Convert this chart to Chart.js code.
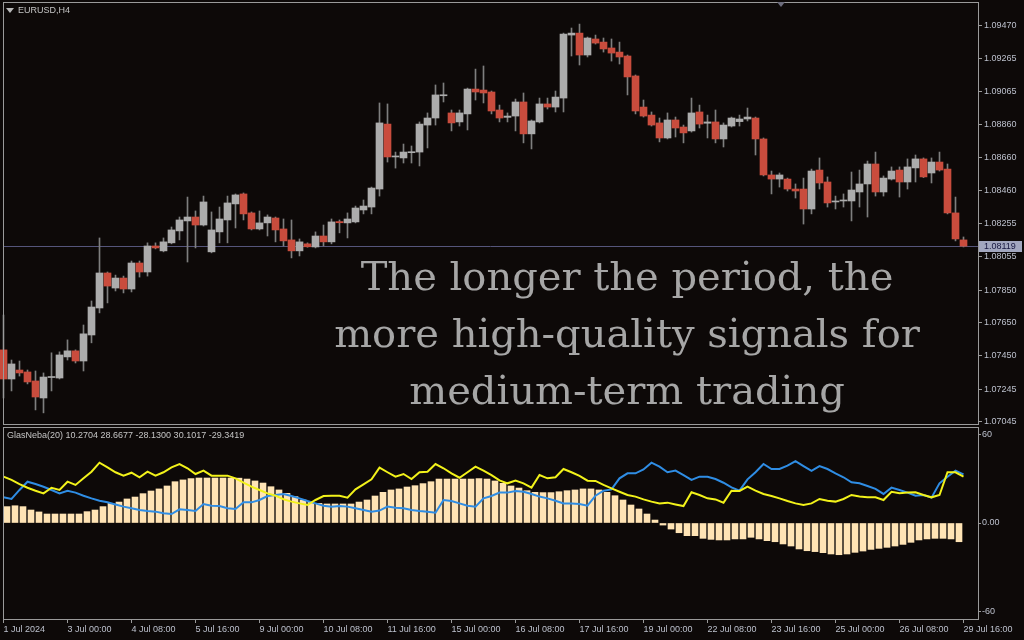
<!DOCTYPE html>
<html>
<head>
<meta charset="utf-8">
<script src="https://cdn.jsdelivr.net/npm/chart.js@4.4.1/dist/chart.umd.min.js"></script>
<style>
  html, body { margin: 0; padding: 0; background: #0d0908; }
  #wrap { position: relative; width: 1024px; height: 640px; overflow: hidden; background: #0d0908; }
  canvas { position: absolute; left: 0; }
  #priceCanvas { top: 0; }
  #indCanvas { top: 426px; }
  .lbl { position: absolute; font: 9px "Liberation Sans", Arial, sans-serif; color: #c4c4c4; white-space: nowrap; }
  #symbol { left: 18px; top: 5px; }
  #indName { left: 7px; top: 430px; }
  .tri { position: absolute; width: 0; height: 0; border-left: 4px solid transparent; border-right: 4px solid transparent; }
  #tri { left: 6px; top: 8px; border-top: 5px solid #b8b8b8; }
  #shift { left: 777px; top: 2px; border-top: 5px solid #6c6c7c; }
  #overlay { position: absolute; left: 327px; width: 600px; top: 248px; text-align: center;
             font: 40px/57px "DejaVu Serif", serif; color: #a6a6a6; }
</style>
</head>
<body>
<div id="wrap">
  <canvas id="priceCanvas" width="1024" height="432"></canvas>
  <canvas id="indCanvas" width="1024" height="214"></canvas>
  <div class="tri" id="tri"></div>
  <div class="tri" id="shift"></div>
  <div class="lbl" id="symbol">EURUSD,H4</div>
  <div class="lbl" id="indName">GlasNeba(20) 10.2704 28.6677 -28.1300 30.1017 -29.3419</div>
  <div id="overlay">The longer the period, the<br>more high-quality signals for<br>medium-term trading</div>
</div>
<script>
// EURUSD H4 candles, 1 Jul - 29 Jul 2024
const opens = [
  1.07485, 1.07307, 1.07362, 1.07350, 1.07295, 1.07191, 1.07316, 1.07313, 1.07442, 1.07479,
  1.07417, 1.07576, 1.07741, 1.07955, 1.07863, 1.07924, 1.07857, 1.08016, 1.07961, 1.08120,
  1.08090, 1.08139, 1.08212, 1.08273, 1.08297, 1.08248, 1.08084, 1.08206, 1.08279, 1.08377,
  1.08438, 1.08322, 1.08224, 1.08261, 1.08291, 1.08224, 1.08157, 1.08090, 1.08133, 1.08114,
  1.08181, 1.08145, 1.08269, 1.08261, 1.08267, 1.08340, 1.08358, 1.08468, 1.08865, 1.08664,
  1.08658, 1.08690, 1.08694, 1.08859, 1.08902, 1.09038, 1.08933, 1.08878, 1.08927, 1.09079,
  1.09073, 1.09061, 1.08951, 1.08906, 1.08914, 1.09000, 1.08805, 1.08878, 1.08988, 1.08969,
  1.09024, 1.09409, 1.09421, 1.09287, 1.09385, 1.09366, 1.09330, 1.09305, 1.09281, 1.09159,
  1.08969, 1.08920, 1.08872, 1.08780, 1.08890, 1.08847, 1.08823, 1.08939, 1.08870, 1.08878,
  1.08774, 1.08853, 1.08880, 1.08896, 1.08902, 1.08774, 1.08554, 1.08529, 1.08529, 1.08468,
  1.08468, 1.08346, 1.08584, 1.08511, 1.08389, 1.08395, 1.08395, 1.08450, 1.08499, 1.08621,
  1.08450, 1.08529, 1.08584, 1.08511, 1.08597, 1.08652, 1.08566, 1.08633, 1.08590, 1.08322,
  1.08157
];
const highs = [
  1.07698, 1.07423, 1.07417, 1.07362, 1.07356, 1.07344, 1.07467, 1.07473, 1.07546, 1.07485,
  1.07637, 1.07784, 1.08169, 1.07961, 1.07942, 1.07936, 1.08028, 1.08028, 1.08139, 1.08139,
  1.08169, 1.08236, 1.08297, 1.08419, 1.08334, 1.08425, 1.08328, 1.08358, 1.08425, 1.08438,
  1.08444, 1.08328, 1.08334, 1.08310, 1.08297, 1.08285, 1.08279, 1.08163, 1.08139, 1.08206,
  1.08248, 1.08285, 1.08279, 1.08322, 1.08364, 1.08401, 1.08480, 1.08994, 1.08988, 1.08694,
  1.08743, 1.08731, 1.08878, 1.08933, 1.09104, 1.09116, 1.08951, 1.08951, 1.09085, 1.09201,
  1.09220, 1.09067, 1.08981, 1.08933, 1.09018, 1.09055, 1.08890, 1.09024, 1.09024, 1.09067,
  1.09421, 1.09452, 1.09476, 1.09397, 1.09409, 1.09391, 1.09385, 1.09366, 1.09287, 1.09165,
  1.09012, 1.08939, 1.08902, 1.08933, 1.08908, 1.08859, 1.09024, 1.08981, 1.08920, 1.08951,
  1.08872, 1.08908, 1.08920, 1.08963, 1.08908, 1.08780, 1.08578, 1.08566, 1.08535, 1.08499,
  1.08535, 1.08590, 1.08658, 1.08542, 1.08425, 1.08438, 1.08572, 1.08584, 1.08639, 1.08694,
  1.08548, 1.08603, 1.08603, 1.08652, 1.08676, 1.08658, 1.08658, 1.08694, 1.08621, 1.08419,
  1.08175
];
const lows = [
  1.07191, 1.07234, 1.07325, 1.07277, 1.07118, 1.07100, 1.07234, 1.07307, 1.07423, 1.07405,
  1.07356, 1.07528, 1.07711, 1.07772, 1.07845, 1.07833, 1.07839, 1.07930, 1.07936, 1.08102,
  1.08084, 1.08133, 1.08157, 1.08022, 1.08108, 1.08242, 1.08078, 1.08139, 1.08139, 1.08230,
  1.08279, 1.08218, 1.08218, 1.08181, 1.08145, 1.08120, 1.08047, 1.08059, 1.08112, 1.08108,
  1.08120, 1.08133, 1.08200, 1.08169, 1.08261, 1.08316, 1.08316, 1.08425, 1.08633, 1.08596,
  1.08627, 1.08627, 1.08609, 1.08719, 1.08859, 1.09000, 1.08823, 1.08853, 1.08829, 1.09012,
  1.08994, 1.08927, 1.08878, 1.08878, 1.08823, 1.08750, 1.08713, 1.08872, 1.08957, 1.08939,
  1.08939, 1.09281, 1.09226, 1.09275, 1.09354, 1.09305, 1.09250, 1.09232, 1.09043, 1.08927,
  1.08908, 1.08853, 1.08756, 1.08774, 1.08786, 1.08750, 1.08816, 1.08841, 1.08780, 1.08750,
  1.08725, 1.08847, 1.08853, 1.08884, 1.08676, 1.08548, 1.08438, 1.08480, 1.08456, 1.08413,
  1.08254, 1.08316, 1.08468, 1.08358, 1.08346, 1.08358, 1.08273, 1.08358, 1.08297, 1.08425,
  1.08425, 1.08523, 1.08419, 1.08468, 1.08511, 1.08538, 1.08505, 1.08578, 1.08316, 1.08151,
  1.08114
];
const closes = [
  1.07307, 1.07399, 1.07344, 1.07289, 1.07197, 1.07319, 1.07322, 1.07454, 1.07479, 1.07417,
  1.07583, 1.07747, 1.07955, 1.07875, 1.07924, 1.07857, 1.08016, 1.07961, 1.08120, 1.08108,
  1.08145, 1.08218, 1.08279, 1.08297, 1.08248, 1.08389, 1.08218, 1.08285, 1.08383, 1.08432,
  1.08316, 1.08224, 1.08261, 1.08297, 1.08218, 1.08151, 1.08090, 1.08145, 1.08115, 1.08181,
  1.08145, 1.08267, 1.08262, 1.08285, 1.08352, 1.08364, 1.08474, 1.08872, 1.08664, 1.08670,
  1.08694, 1.08696, 1.08865, 1.08902, 1.09043, 1.09044, 1.08872, 1.08933, 1.09079, 1.09061,
  1.09055, 1.08945, 1.08902, 1.08914, 1.09000, 1.08805, 1.08884, 1.08988, 1.08969, 1.09030,
  1.09415, 1.09421, 1.09287, 1.09391, 1.09360, 1.09324, 1.09299, 1.09275, 1.09153, 1.08945,
  1.08914, 1.08859, 1.08780, 1.08890, 1.08841, 1.08811, 1.08933, 1.08865, 1.08878, 1.08774,
  1.08859, 1.08902, 1.08896, 1.08908, 1.08774, 1.08554, 1.08529, 1.08554, 1.08468, 1.08456,
  1.08346, 1.08578, 1.08505, 1.08383, 1.08395, 1.08401, 1.08462, 1.08499, 1.08621, 1.08450,
  1.08535, 1.08578, 1.08511, 1.08603, 1.08652, 1.08542, 1.08633, 1.08584, 1.08322, 1.08163,
  1.08119
];

// GlasNeba(20) indicator buffers
const histValues = [
  11.1, 11.7, 11.1, 8.8, 7.5, 6.1, 6.1, 6.1, 6.1, 6.1,
  7.7, 8.8, 11.1, 13.3, 14.2, 16.3, 17.6, 19.9, 21.7, 23.1,
  25.1, 28.0, 29.2, 30.1, 30.5, 30.5, 30.5, 30.5, 30.5, 30.4,
  29.8, 28.5, 27.1, 24.6, 22.4, 20.1, 17.9, 15.6, 14.0, 13.3,
  12.9, 12.9, 12.9, 12.9, 14.2, 15.6, 18.3, 20.8, 22.4, 23.1,
  24.4, 25.3, 26.7, 28.0, 29.8, 29.8, 29.8, 29.8, 29.8, 30.1,
  29.8, 28.5, 26.9, 25.1, 23.7, 21.9, 20.8, 20.6, 20.6, 21.2,
  21.9, 22.4, 23.1, 23.1, 22.4, 20.8, 18.5, 15.6, 12.2, 9.5,
  6.1, 2.0, -1.4, -4.1, -6.6, -8.6, -8.6, -10.4, -11.1, -11.5,
  -11.5, -10.8, -10.8, -9.7, -10.8, -12.0, -12.7, -14.2, -15.6, -17.6,
  -18.8, -19.4, -20.1, -21.0, -21.5, -21.0, -19.9, -19.0, -17.9, -17.2,
  -16.5, -15.6, -14.5, -13.1, -11.5, -10.8, -10.4, -10.4, -10.8, -12.7
];
const yellowLine = [
  31.4, 29.2, 26.4, 23.9, 21.9, 20.1, 23.9, 22.4, 28.0, 25.8,
  30.3, 34.8, 40.9, 37.7, 34.4, 32.1, 34.1, 31.0, 34.8, 32.1,
  34.4, 37.7, 40.0, 37.1, 33.2, 35.5, 32.1, 32.1, 32.1, 30.3,
  27.3, 24.6, 22.4, 20.1, 18.5, 16.1, 14.5, 13.3, 12.2, 15.6,
  18.3, 18.5, 18.5, 17.2, 22.8, 26.2, 29.6, 37.5, 34.4, 31.4,
  33.2, 29.8, 34.4, 34.8, 40.0, 37.1, 33.7, 30.7, 34.4, 38.2,
  35.5, 32.5, 28.9, 26.9, 28.7, 26.9, 24.0, 32.5, 30.3, 31.0,
  36.6, 34.4, 31.9, 28.7, 28.5, 25.8, 23.5, 21.2, 19.0, 17.9,
  16.0, 14.5, 13.3, 13.8, 12.6, 11.5, 20.8, 19.0, 16.7, 16.0,
  13.8, 21.9, 21.7, 24.6, 21.9, 19.7, 18.3, 16.7, 14.9, 13.3,
  12.2, 13.3, 16.3, 15.1, 14.5, 16.3, 19.0, 17.9, 17.4, 17.4,
  15.6, 21.2, 20.1, 20.6, 20.8, 19.0, 17.4, 19.0, 34.4, 34.4,
  31.4
];
const blueLine = [
  17.4, 16.3, 22.4, 28.0, 26.4, 24.6, 22.4, 20.1, 21.9, 20.6,
  18.5, 16.7, 15.1, 14.0, 12.6, 11.1, 10.0, 8.8, 8.1, 7.7,
  6.6, 6.1, 9.3, 8.8, 8.1, 12.9, 11.7, 11.5, 10.0, 9.5,
  14.0, 14.0, 15.6, 18.3, 19.0, 19.7, 18.3, 16.7, 14.9, 13.3,
  11.7, 11.1, 11.5, 11.1, 10.0, 8.8, 7.7, 8.4, 11.1, 10.4,
  10.0, 8.8, 8.1, 7.7, 7.0, 15.6, 14.9, 13.3, 11.7, 11.1,
  16.7, 18.3, 20.6, 20.6, 21.7, 21.2, 19.7, 17.9, 16.7, 15.1,
  13.3, 13.3, 12.9, 11.7, 18.5, 21.9, 22.8, 30.3, 33.7, 33.7,
  36.3, 40.9, 38.2, 34.4, 35.5, 32.5, 29.2, 31.4, 31.4, 29.8,
  27.3, 24.2, 21.9, 29.6, 34.4, 40.0, 36.6, 36.6, 38.9, 42.0,
  38.6, 35.3, 38.6, 36.6, 33.7, 31.0, 27.6, 26.9, 25.1, 23.1,
  19.7, 24.0, 22.4, 20.6, 18.5, 19.0, 17.2, 26.9, 31.4, 35.5,
  32.9
];

const xTickIdx = [0, 8, 16, 24, 32, 40, 48, 56, 64, 72, 80, 88, 96, 104, 112, 120];
const xTickLabels = ['1 Jul 2024', '3 Jul 00:00', '4 Jul 08:00', '5 Jul 16:00', '9 Jul 00:00',
  '10 Jul 08:00', '11 Jul 16:00', '15 Jul 00:00', '16 Jul 08:00', '17 Jul 16:00', '19 Jul 00:00',
  '22 Jul 08:00', '23 Jul 16:00', '25 Jul 00:00', '26 Jul 08:00', '29 Jul 16:00'];
const priceTicks = [1.09470, 1.09265, 1.09065, 1.08860, 1.08660, 1.08460, 1.08255,
  1.08055, 1.07850, 1.07650, 1.07450, 1.07245, 1.07045];
const indTicks = [60, 0, -60];
const lastPrice = 1.08119;

// axis ranges
const xMin = -0.0625, xMax = 121.8125;
const priceMin = 1.07032, priceMax = 1.09611;
const indMin = -65.08, indMax = 65.08;

const UP = '#acacac', DOWN = '#c94c3d', WICK = '#7e7e7e';
const FRAME = '#9a9a9a', AXIS_TXT = '#bcc0cc';

Chart.defaults.font.family = '"Liberation Sans", Arial, sans-serif';
Chart.defaults.font.size = 9;

const framePlugin = {
  id: 'frame',
  afterDraw(chart) {
    const { ctx, chartArea: a } = chart;
    ctx.save();
    ctx.strokeStyle = FRAME;
    ctx.lineWidth = 1;
    ctx.strokeRect(a.left + 0.5, a.top + 0.5, a.right - a.left, a.bottom - a.top);
    ctx.restore();
  }
};

// horizontal bid line and its label on the price scale
const bidPlugin = {
  id: 'bid',
  beforeDatasetsDraw(chart) {
    const { ctx, chartArea: a } = chart;
    const y = Math.round(chart.scales.y.getPixelForValue(lastPrice)) + 0.5;
    ctx.save();
    ctx.strokeStyle = '#55557a';
    ctx.beginPath();
    ctx.moveTo(a.left, y);
    ctx.lineTo(a.right, y);
    ctx.stroke();
    ctx.restore();
  },
  afterDraw(chart) {
    const { ctx, chartArea: a } = chart;
    const y = Math.round(chart.scales.y.getPixelForValue(lastPrice));
    ctx.save();
    ctx.fillStyle = '#a2a7bf';
    ctx.fillRect(a.right + 1, y - 5, 43, 11);
    ctx.fillStyle = '#161640';
    ctx.font = '9px "Liberation Sans", Arial, sans-serif';
    ctx.textBaseline = 'middle';
    ctx.fillText(lastPrice.toFixed(5), a.right + 6, y + 0.5);
    ctx.restore();
  }
};

const idx = closes.map((_, i) => i);

new Chart(document.getElementById('priceCanvas'), {
  type: 'bar',
  data: {
    datasets: [
      {
        label: 'body',
        data: idx.map(i => ({ x: i, y: [opens[i], closes[i]] })),
        backgroundColor: idx.map(i => closes[i] >= opens[i] ? UP : DOWN),
        barThickness: 7, grouped: false, minBarLength: 1, order: 0, clip: false
      },
      {
        label: 'wick',
        data: idx.map(i => ({ x: i, y: [lows[i], highs[i]] })),
        backgroundColor: WICK,
        barThickness: 1, grouped: false, order: 1, clip: false
      }
    ]
  },
  options: {
    responsive: false,
    animation: false,
    devicePixelRatio: 1,
    layout: { padding: { left: 3, top: 2, right: 0, bottom: 8 } },
    plugins: { legend: { display: false }, tooltip: { enabled: false } },
    scales: {
      x: { type: 'linear', display: false, min: xMin, max: xMax, offset: false },
      y: {
        position: 'right', min: priceMin, max: priceMax, beginAtZero: false, bounds: 'data',
        grid: { drawOnChartArea: false, tickLength: 4, color: FRAME },
        border: { display: false },
        ticks: { color: AXIS_TXT, padding: 2, callback: v => v.toFixed(5) },
        afterBuildTicks: s => { s.ticks = priceTicks.map(v => ({ value: v })); },
        afterFit: s => { s.width = 46; s.paddingTop = 0; s.paddingBottom = 0; }
      }
    }
  },
  plugins: [framePlugin, bidPlugin]
});

new Chart(document.getElementById('indCanvas'), {
  type: 'bar',
  data: {
    datasets: [
      {
        type: 'line', label: 'signal',
        data: idx.map(i => ({ x: i, y: yellowLine[i] })),
        borderColor: '#f2f21a', borderWidth: 2, pointRadius: 0, order: 0
      },
      {
        type: 'line', label: 'trend',
        data: idx.map(i => ({ x: i, y: blueLine[i] })),
        borderColor: '#2f8de4', borderWidth: 2, pointRadius: 0, order: 1
      },
      {
        type: 'bar', label: 'hist',
        data: histValues.map((v, k) => ({ x: k, y: v })),
        backgroundColor: '#ffe4b5', barThickness: 6, order: 2, xAxisID: 'xh'
      }
    ]
  },
  options: {
    responsive: false,
    animation: false,
    devicePixelRatio: 1,
    layout: { padding: { left: 3, top: 1, right: 0, bottom: 0 } },
    plugins: { legend: { display: false }, tooltip: { enabled: false } },
    scales: {
      x: {
        type: 'linear', position: 'bottom', min: xMin, max: xMax, offset: false,
        grid: { drawOnChartArea: false, offset: false, tickLength: 4, color: FRAME },
        border: { display: false },
        ticks: {
          autoSkip: false, maxRotation: 0, align: 'start', padding: 1, color: AXIS_TXT,
          callback: (v, i) => xTickLabels[i]
        },
        afterBuildTicks: s => { s.ticks = xTickIdx.map(v => ({ value: v })); },
        afterFit: s => { s.height = 21; s.paddingLeft = 0; s.paddingRight = 0; }
      },
      xh: { type: 'linear', display: false, min: xMin - 0.0625, max: xMax - 0.0625, offset: false },
      y: {
        position: 'right', min: indMin, max: indMax, beginAtZero: false, bounds: 'data',
        grid: { drawOnChartArea: false, tickLength: 3, color: FRAME },
        border: { display: false },
        ticks: { color: AXIS_TXT, padding: 1, callback: v => v === 0 ? '0.00' : String(v) },
        afterBuildTicks: s => { s.ticks = indTicks.map(v => ({ value: v })); },
        afterFit: s => { s.width = 46; s.paddingTop = 0; s.paddingBottom = 0; }
      }
    }
  },
  plugins: [framePlugin]
});
</script>
</body>
</html>
